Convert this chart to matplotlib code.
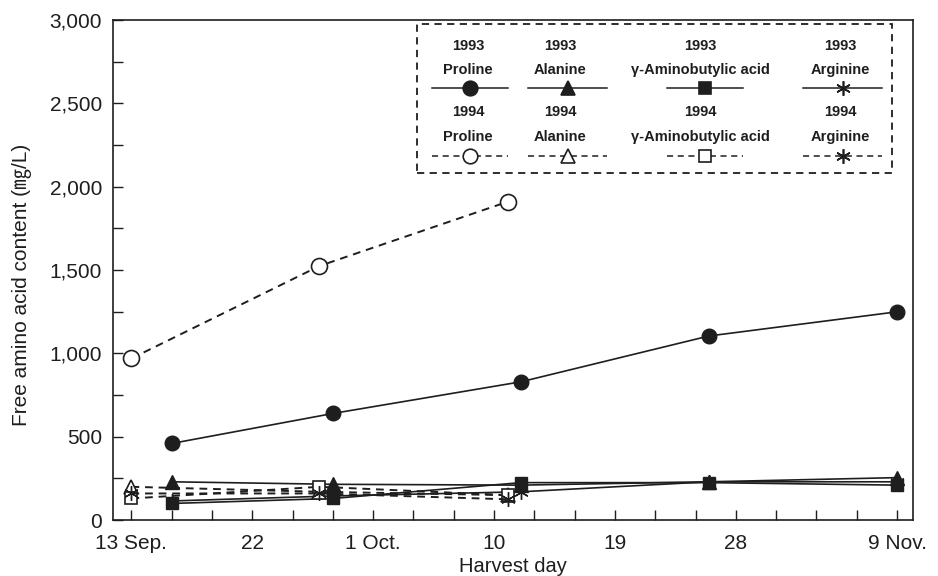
import numpy as np
import matplotlib.pyplot as plt
from matplotlib.lines import Line2D
from matplotlib.ticker import MultipleLocator

plt.rcParams['font.family'] = ['Liberation Sans', 'DejaVu Sans']

# harvest day, counted from 13 Sep.
days_1993 = [3, 15, 29, 43, 57]
days_1994 = [0, 14, 28]

proline_1993 = [460, 640, 830, 1105, 1250]
alanine_1993 = [230, 215, 210, 230, 255]
gaba_1993 = [100, 130, 225, 225, 210]
arginine_1993 = [115, 145, 170, 230, 230]

proline_1994 = [970, 1525, 1910]
alanine_1994 = [200, 170, 150]
gaba_1994 = [130, 200, 150]
arginine_1994 = [160, 160, 125]

tick_days = [0, 9, 18, 27, 36, 45, 57]
tick_labels = ["13 Sep.", "22", "1 Oct.", "10", "19", "28", "9 Nov."]

ink = "#1e1e1e"
ms = 10.5
dash = (0, (4, 3))

fig = plt.figure(figsize=(9.38, 5.76), dpi=100)
ax = fig.add_axes([0.1205, 0.097, 0.853, 0.868])

# 1993 - solid, filled markers
ax.plot(days_1993, proline_1993, '-', marker='o', color=ink, mfc=ink, ms=ms, lw=1.2)
ax.plot(days_1993, alanine_1993, '-', marker='^', color=ink, mfc=ink, ms=ms, lw=1.2)
ax.plot(days_1993, gaba_1993, '-', marker='s', color=ink, mfc=ink, ms=ms - 1.5, lw=1.2)
ax.plot(days_1993, arginine_1993, '-', marker=(6, 2, 0), color=ink, ms=ms, lw=1.2)

# 1994 - dashed, open markers
ax.plot(days_1994, proline_1994, linestyle=dash, marker='o', color=ink, mfc='white', ms=ms + 1, lw=1.4, mew=1.2)
ax.plot(days_1994, alanine_1994, linestyle=dash, marker='^', color=ink, mfc='white', ms=ms, lw=1.4, mew=1.2)
ax.plot(days_1994, gaba_1994, linestyle=dash, marker='s', color=ink, mfc='white', ms=ms - 1.5, lw=1.4, mew=1.2)
ax.plot(days_1994, arginine_1994, linestyle=dash, marker=(6, 2, 0), color=ink, ms=ms, lw=1.4)

ax.set_xlim(-1.37, 58.2)
ax.set_ylim(0, 3000)
ax.set_xticks(tick_days)
ax.set_xticklabels(tick_labels)
ax.xaxis.set_minor_locator(MultipleLocator(3))
ax.yaxis.set_major_locator(MultipleLocator(500))
ax.yaxis.set_minor_locator(MultipleLocator(250))
ax.yaxis.set_major_formatter(lambda v, p: f"{int(v):,}")
ax.tick_params(which='both', direction='in', color=ink, width=1.0, labelsize=15, labelcolor=ink)
ax.tick_params(which='major', length=7)
ax.tick_params(which='minor', length=7)
ax.tick_params(axis='x', pad=10)
ax.tick_params(axis='y', pad=8)
for s in ax.spines.values():
    s.set_color(ink)
    s.set_linewidth(1.2)

ax.set_xlabel("Harvest day", fontsize=14.5, color=ink, labelpad=3)
ax.set_ylabel("Free amino acid content (㎎/L)", fontsize=15, color=ink,
              family=['Liberation Sans', 'Noto Sans CJK JP'])
# label sits a little below the axis centre in the original
ax.yaxis.set_label_coords(-0.101, 0.47)

# legend drawn by hand: two rows of four entries, labels above samples
ax_l, ax_b, ax_w, ax_h = 113, 20, 800, 500


def px(x, y):
    return ((x - ax_l) / ax_w, 1 - (y - ax_b) / ax_h)


box_x0, box_y0 = px(417, 173)
box_x1, box_y1 = px(892, 24)
ax.add_patch(plt.Rectangle((box_x0, box_y0), box_x1 - box_x0, box_y1 - box_y0,
                           transform=ax.transAxes, fill=True, fc='white',
                           ec=ink, lw=1.3, ls=(0, (4, 3)), zorder=5))

names = ["Proline", "Alanine", "γ-Aminobutylic acid", "Arginine"]
markers = ['o', '^', 's', (6, 2, 0)]
text_x = [468, 560, 700, 840]
seg = [(432, 508), (528, 607), (667, 743), (803, 882)]

for year, ls, fill, ty1, ty2, ly in [("1993", '-', ink, 46, 70, 88),
                                     ("1994", dash, 'white', 112, 137, 156)]:
    for i in range(4):
        x0, y0 = px(text_x[i], ty1)
        ax.text(x0, y0, year, transform=ax.transAxes, ha='center', va='center',
                fontsize=10.5, fontweight='bold', color=ink, zorder=6)
        x1, y1 = px(text_x[i], ty2)
        ax.text(x1, y1, names[i], transform=ax.transAxes, ha='center', va='center',
                fontsize=10.5, fontweight='bold', color=ink, zorder=6)
        a, b = seg[i]
        xa, yl = px(a, ly)
        xb, _ = px(b, ly)
        ax.add_line(Line2D([xa, xb], [yl, yl], transform=ax.transAxes, color=ink,
                           ls=ls, lw=1.1, zorder=6))
        xm, _ = px((a + b) / 2, ly)
        ax.add_line(Line2D([xm], [yl], transform=ax.transAxes, color=ink, marker=markers[i],
                           mfc=fill, ms=ms if i != 2 else ms - 1.5, mew=1.2, zorder=7))

fig.savefig("out.png", dpi=100)
